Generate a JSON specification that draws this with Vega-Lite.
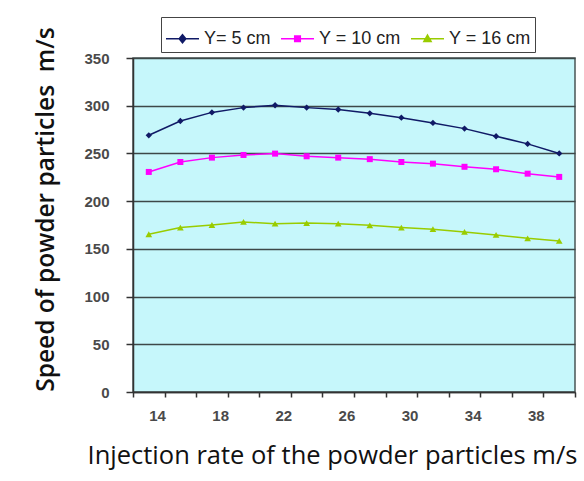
{
  "$schema": "https://vega.github.io/schema/vega-lite/v6.json",
  "width": 442,
  "height": 334,
  "autosize": {"type": "none"},
  "padding": {"left": 133, "top": 58, "right": 9, "bottom": 89},
  "background": "white",
  "config": {
    "view": {"fill": "#c6f7fb", "stroke": "#4a5555", "strokeWidth": 1.5},
    "font": "Liberation Sans"
  },
  "data": {
    "values": [
      {"x": 14, "s": "Y= 5 cm", "v": 269}, {"x": 16, "s": "Y= 5 cm", "v": 284}, {"x": 18, "s": "Y= 5 cm", "v": 293},
      {"x": 20, "s": "Y= 5 cm", "v": 298}, {"x": 22, "s": "Y= 5 cm", "v": 300.5}, {"x": 24, "s": "Y= 5 cm", "v": 298},
      {"x": 26, "s": "Y= 5 cm", "v": 296}, {"x": 28, "s": "Y= 5 cm", "v": 292}, {"x": 30, "s": "Y= 5 cm", "v": 287.5},
      {"x": 32, "s": "Y= 5 cm", "v": 282}, {"x": 34, "s": "Y= 5 cm", "v": 276}, {"x": 36, "s": "Y= 5 cm", "v": 268},
      {"x": 38, "s": "Y= 5 cm", "v": 260}, {"x": 40, "s": "Y= 5 cm", "v": 250},
      {"x": 14, "s": "Y = 10 cm", "v": 230.6}, {"x": 16, "s": "Y = 10 cm", "v": 241}, {"x": 18, "s": "Y = 10 cm", "v": 245.6},
      {"x": 20, "s": "Y = 10 cm", "v": 248.4}, {"x": 22, "s": "Y = 10 cm", "v": 249.8}, {"x": 24, "s": "Y = 10 cm", "v": 247},
      {"x": 26, "s": "Y = 10 cm", "v": 245.6}, {"x": 28, "s": "Y = 10 cm", "v": 244}, {"x": 30, "s": "Y = 10 cm", "v": 241},
      {"x": 32, "s": "Y = 10 cm", "v": 239.3}, {"x": 34, "s": "Y = 10 cm", "v": 236}, {"x": 36, "s": "Y = 10 cm", "v": 233.4},
      {"x": 38, "s": "Y = 10 cm", "v": 228.8}, {"x": 40, "s": "Y = 10 cm", "v": 225.4},
      {"x": 14, "s": "Y = 16 cm", "v": 165.3}, {"x": 16, "s": "Y = 16 cm", "v": 172.3}, {"x": 18, "s": "Y = 16 cm", "v": 175},
      {"x": 20, "s": "Y = 16 cm", "v": 178.2}, {"x": 22, "s": "Y = 16 cm", "v": 176.4}, {"x": 24, "s": "Y = 16 cm", "v": 177},
      {"x": 26, "s": "Y = 16 cm", "v": 176.4}, {"x": 28, "s": "Y = 16 cm", "v": 174.7}, {"x": 30, "s": "Y = 16 cm", "v": 172.3},
      {"x": 32, "s": "Y = 16 cm", "v": 170.6}, {"x": 34, "s": "Y = 16 cm", "v": 167.7}, {"x": 36, "s": "Y = 16 cm", "v": 164.6},
      {"x": 38, "s": "Y = 16 cm", "v": 161}, {"x": 40, "s": "Y = 16 cm", "v": 158.3}
    ]
  },
  "encoding": {
    "x": {
      "field": "x", "type": "quantitative",
      "scale": {"domain": [13, 41], "nice": false, "zero": false},
      "axis": {
        "values": [13, 15, 17, 19, 21, 23, 25, 27, 29, 31, 33, 35, 37, 39, 41],
        "labelExpr": "((datum.value - 13) % 4 == 0 && datum.value < 41) ? '' + (datum.value + 1) : ''",
        "labelOffset": 24,
        "labelFlush": false,
        "labelOverlap": false,
        "labelFont": "Liberation Sans",
        "labelFontSize": 15,
        "labelFontWeight": "bold",
        "labelColor": "#4a4a4a",
        "labelPadding": 11,
        "tickSize": 5,
        "tickColor": "#333",
        "tickWidth": 1.5,
        "domainColor": "#333",
        "domainWidth": 1.5,
        "grid": false,
        "title": "Injection rate of the powder particles m/s",
        "titleFont": "Open Sans",
        "titleFontSize": 25.5,
        "titleFontWeight": 500,
        "titleColor": "#111",
        "titleBaseline": "alphabetic",
        "titleX": 199,
        "titleY": 71
      }
    },
    "y": {
      "field": "v", "type": "quantitative",
      "scale": {"domain": [0, 350], "nice": false},
      "axis": {
        "values": [0, 50, 100, 150, 200, 250, 300, 350],
        "labelFont": "Liberation Sans",
        "labelFontSize": 15,
        "labelFontWeight": "bold",
        "labelColor": "#4a4a4a",
        "labelPadding": 17,
        "tickSize": 7,
        "tickColor": "#333",
        "tickWidth": 1.5,
        "domainColor": "#333",
        "domainWidth": 1.5,
        "grid": true,
        "gridColor": "#3d4848",
        "gridWidth": 1.5,
        "title": "Speed of powder particles \u00a0m/s",
        "titleFont": "Open Sans",
        "titleFontSize": 24.5,
        "titleFontWeight": 600,
        "titleColor": "#111",
        "titleBaseline": "alphabetic",
        "titleX": -80,
        "titleY": 151
      }
    }
  },
  "layer": [
    {
      "mark": {"type": "point", "filled": false, "opacity": 0},
      "encoding": {
        "color": {
          "field": "s", "type": "nominal",
          "scale": {"domain": ["Y= 5 cm", "Y = 10 cm", "Y = 16 cm"], "range": ["#101a66", "#ff00ff", "#99cc00"]},
          "legend": {
            "title": null,
            "orient": "none",
            "direction": "horizontal",
            "legendX": 28,
            "legendY": -41,
            "strokeColor": "#444",
            "fillColor": "white",
            "padding": 4,
            "labelFont": "Liberation Sans",
            "labelFontSize": 18,
            "labelColor": "#222",
            "labelOffset": 4,
            "symbolOpacity": 1,
            "symbolStrokeWidth": 1.5,
            "symbolSize": 1089,
            "columnPadding": 7
          }
        },
        "shape": {
          "field": "s", "type": "nominal",
          "scale": {
            "domain": ["Y= 5 cm", "Y = 10 cm", "Y = 16 cm"],
            "range": [
              "M-1,0H1M0,-0.24L0.2,0L0,0.24L-0.2,0ZM0,-0.12L0.1,0L0,0.12L-0.1,0Z",
              "M-1,0H1M-0.17,-0.17H0.17V0.17H-0.17ZM-0.07,-0.07H0.07V0.07H-0.07Z",
              "M-1,0H1M0,-0.22L0.22,0.17H-0.22ZM0,-0.06L0.09,0.1H-0.09Z"
            ]
          },
          "legend": null
        }
      }
    },
    {
      "mark": {"type": "line", "strokeWidth": 1.5},
      "encoding": {"color": {"field": "s", "type": "nominal"}}
    },
    {
      "transform": [{"filter": "datum.s == 'Y= 5 cm'"}],
      "mark": {"type": "point", "filled": true, "opacity": 1, "size": 40, "shape": "diamond"},
      "encoding": {"color": {"field": "s", "type": "nominal"}}
    },
    {
      "transform": [{"filter": "datum.s == 'Y = 10 cm'"}],
      "mark": {"type": "point", "filled": true, "opacity": 1, "size": 36, "shape": "square"},
      "encoding": {"color": {"field": "s", "type": "nominal"}}
    },
    {
      "transform": [{"filter": "datum.s == 'Y = 16 cm'"}],
      "mark": {"type": "point", "filled": true, "opacity": 1, "size": 45, "shape": "triangle-up"},
      "encoding": {"color": {"field": "s", "type": "nominal"}}
    }
  ]
}
